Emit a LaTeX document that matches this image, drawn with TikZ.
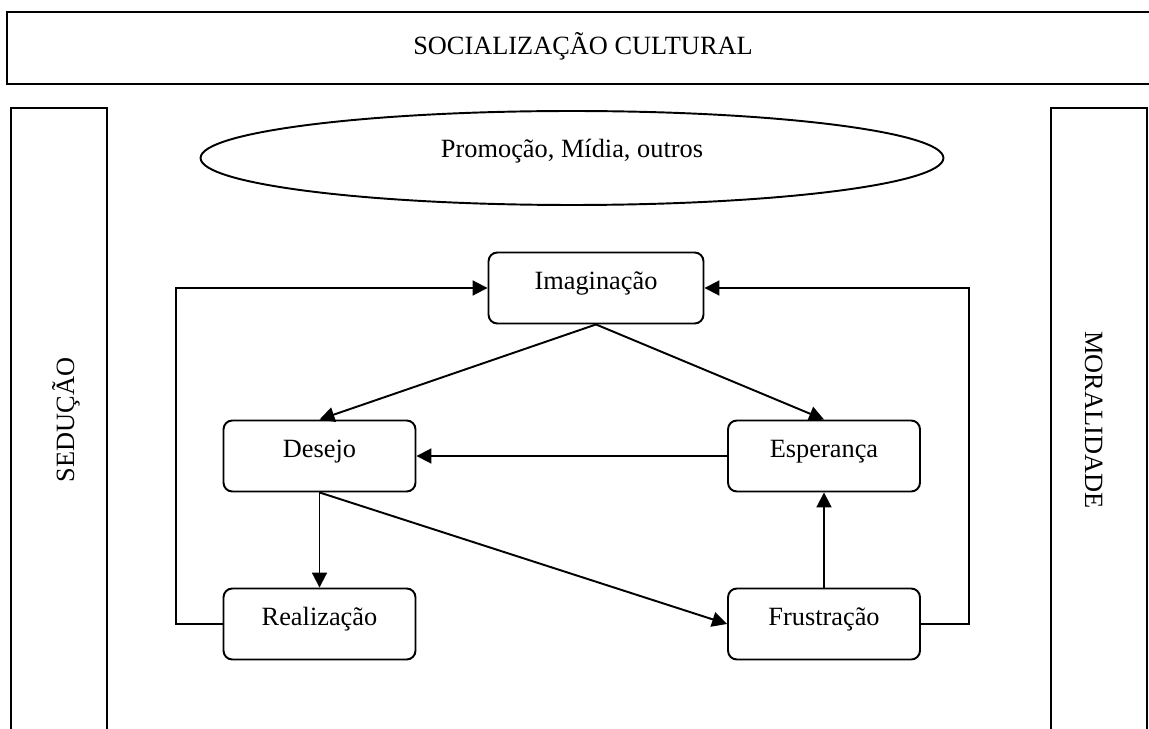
\documentclass[tikz,border=0pt]{standalone}
\usepackage{fontspec}
\setmainfont{Liberation Serif}
\usetikzlibrary{arrows.meta,shapes.geometric}

\begin{document}
\begin{tikzpicture}[
    x=0.02cm, y=-0.02cm,
    >={Triangle[length=8.5pt,width=8.5pt]},
    line width=1.1pt,
    font=\fontsize{15}{18}\selectfont,
    stage/.style={draw, rounded corners=5pt, minimum width=3.84cm,
        minimum height=1.42cm, inner sep=0pt, text height=10pt, text depth=7.8pt}
]
\useasboundingbox (0,0) rectangle (1149,729);

% Outer frame
\draw (1149,12) -- (7,12) -- (7,84) -- (1149,84);
\node[anchor=base] (Soc) at (583,55) {SOCIALIZAÇÃO CULTURAL};

% Side columns
\draw (11,729) -- (11,108) -- (107,108) -- (107,729);
\node[rotate=90, anchor=base] (Sed) at (74,420) {SEDUÇÃO};
\draw (1051,729) -- (1051,108) -- (1147,108) -- (1147,729);
\node[rotate=-90, anchor=base] (Mor) at (1085,420) {MORALIDADE};

% Media ellipse
\node[draw, ellipse, minimum width=14.86cm, minimum height=1.88cm,
    inner sep=0pt, text height=10pt, text depth=11pt] (Mid) at (572,158)
    {Promoção, Mídia, outros};

% Stages
\node[stage, minimum width=4.3cm] (Imag) at (596,288) {Imaginação};
\node[stage] (Des)  at (319.5,456) {Desejo};
\node[stage] (Esp)  at (824,456)   {Esperança};
\node[stage] (Real) at (319.5,624) {Realização};
\node[stage] (Frus) at (824,624)   {Frustração};

% Connections
\draw[->] (Imag.south) -- (Des.north);
\draw[->] (Imag.south) -- (Esp.north);
\draw[->] (Esp.west) -- (Des.east);
\draw[->] (Des.south) -- (Real.north);
\draw[->] (Des.south) -- (Frus.west);
\draw[->] (Frus.north) -- (Esp.south);

% Feedback loops
\draw[->] (Real.west) -- ++(-47,0) |- (Imag.west);
\draw[->] (Frus.east) -- ++(48,0) |- (Imag.east);

\end{tikzpicture}
\end{document}
